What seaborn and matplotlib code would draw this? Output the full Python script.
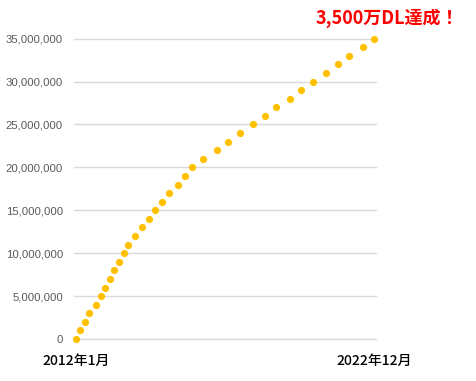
import matplotlib
matplotlib.use("Agg")
import matplotlib.pyplot as plt
import seaborn as sns
import pandas as pd

# Date each cumulative-download milestone was reached
milestone_dates = [
    "2012-01", "2012-03", "2012-05", "2012-07", "2012-10", "2012-12",
    "2013-02", "2013-04", "2013-06", "2013-08", "2013-10", "2013-12",
    "2014-03", "2014-06", "2014-09", "2014-12", "2015-03", "2015-06",
    "2015-10", "2016-01", "2016-04", "2016-09", "2017-03", "2017-08",
    "2018-01", "2018-07", "2018-12", "2019-05", "2019-11", "2020-04",
    "2020-09", "2021-03", "2021-08", "2022-01", "2022-07", "2022-12",
]
downloads = [
    0, 1_000_000, 2_000_000, 3_000_000, 4_000_000, 5_000_000,
    6_000_000, 7_000_000, 8_000_000, 9_000_000, 10_000_000, 11_000_000,
    12_000_000, 13_000_000, 14_000_000, 15_000_000, 16_000_000, 17_000_000,
    18_000_000, 19_000_000, 20_000_000, 21_000_000, 22_000_000, 23_000_000,
    24_000_000, 25_000_000, 26_000_000, 27_000_000, 28_000_000, 29_000_000,
    30_000_000, 31_000_000, 32_000_000, 33_000_000, 34_000_000, 35_000_000,
]
y_ticks = [0, 5_000_000, 10_000_000, 15_000_000, 20_000_000, 25_000_000, 30_000_000, 35_000_000]
x_tick_dates = ["2012-01", "2022-12"]
x_tick_labels = ["2012年1月", "2022年12月"]
headline = "3,500万DL達成！"

df = pd.DataFrame({"date": pd.to_datetime(milestone_dates), "downloads": downloads})

sns.set_theme(style="white")
plt.rcParams["font.family"] = ["Noto Sans CJK JP", "DejaVu Sans"]

fig = plt.figure(figsize=(4.77, 3.81), dpi=100)
ax = fig.add_axes([74 / 477, 1 - 339 / 381, (376 - 74) / 477, (339 - 38.7) / 381])

sns.scatterplot(data=df, x="date", y="downloads", ax=ax, color="#FFC000",
                s=27, linewidth=0, clip_on=False, zorder=3)

ax.set_ylim(0, 35_000_000)
pad = pd.Timedelta(days=23)
ax.set_xlim(pd.Timestamp(x_tick_dates[0]) - pad, pd.Timestamp(x_tick_dates[1]) + pad)

ax.set_yticks(y_ticks)
ax.set_yticklabels([f"{v:,}" for v in y_ticks], fontfamily="Liberation Sans",
                   fontsize=8.2, color="#595959")
ax.set_xticks(pd.to_datetime(x_tick_dates))
ax.set_xticklabels(x_tick_labels, fontsize=10, color="black", fontweight="medium")
ax.tick_params(axis="y", length=0, pad=8)
ax.tick_params(axis="x", length=0, pad=11)

ax.grid(axis="y", color="#D9D9D9", linewidth=1)
ax.grid(axis="x", visible=False)
for gl in ax.get_ygridlines():
    gl.set_clip_on(False)
for sp in ax.spines.values():
    sp.set_visible(False)
ax.set_xlabel("")
ax.set_ylabel("")

fig.text(387 / 477, 1 - 18 / 381, headline, color="#FF0000", fontsize=13,
         fontweight="bold", ha="center", va="center")

fig.savefig("out.png", dpi=100)
